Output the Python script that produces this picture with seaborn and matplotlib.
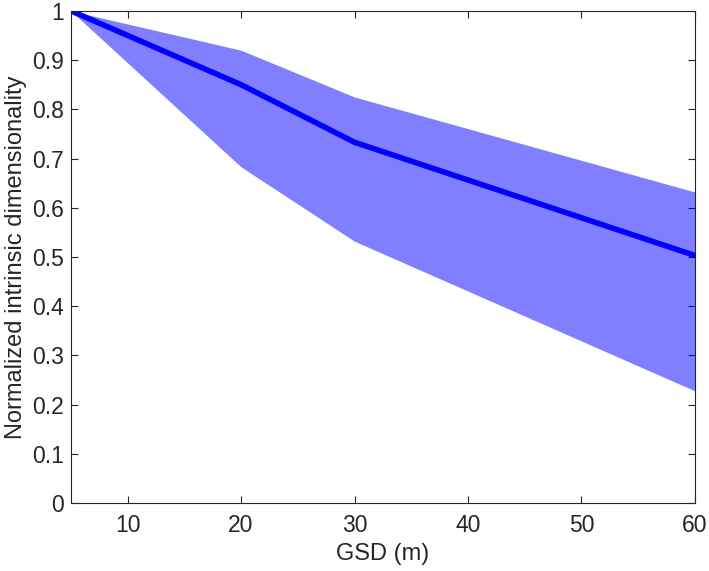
import numpy as np
import pandas as pd
import seaborn as sns
import matplotlib.pyplot as plt
from matplotlib.ticker import FuncFormatter

gsd = [5, 20, 30, 60]
dim_mean = [1.0, 0.85, 0.733, 0.503]
dim_upper = [1.0, 0.92, 0.825, 0.632]
dim_lower = [1.0, 0.683, 0.532, 0.228]
xticks = [10, 20, 30, 40, 50, 60]
yticks = [0, 0.1, 0.2, 0.3, 0.4, 0.5, 0.6, 0.7, 0.8, 0.9, 1]

df = pd.DataFrame({'gsd': gsd, 'mean': dim_mean, 'lo': dim_lower, 'hi': dim_upper})

sns.set_style("ticks")
plt.rcParams['font.family'] = ['Liberation Sans', 'DejaVu Sans']

fig = plt.figure(figsize=(7.09, 5.71), dpi=100)
ax = fig.add_axes([0.100, 0.119, 0.880, 0.862])

ax.fill_between(df['gsd'], df['lo'], df['hi'], color='blue', alpha=0.5, linewidth=0)
sns.lineplot(data=df, x='gsd', y='mean', color='blue', linewidth=4, ax=ax)

ax.set_xlim(5, 60)
ax.set_ylim(0, 1)
ax.set_xticks(xticks)
ax.set_yticks(yticks)
fmt = FuncFormatter(lambda v, p: ('%g' % round(v, 2)))
ax.xaxis.set_major_formatter(fmt)
ax.yaxis.set_major_formatter(fmt)
ax.tick_params(direction='in', top=True, right=True, length=5, width=0.8,
               color='#262626', labelsize=16.5, labelcolor='#262626')
ax.tick_params(axis='x', pad=8)
ax.tick_params(axis='y', pad=5)
for s in ax.spines.values():
    s.set_visible(True)
    s.set_color('#262626')
    s.set_linewidth(0.8)
ax.set_xlabel('GSD (m)', fontsize=17, color='#262626', labelpad=4)
ax.set_ylabel('Normalized intrinsic dimensionality', fontsize=17, color='#262626', labelpad=4)

fig.savefig('out.png', dpi=100)
